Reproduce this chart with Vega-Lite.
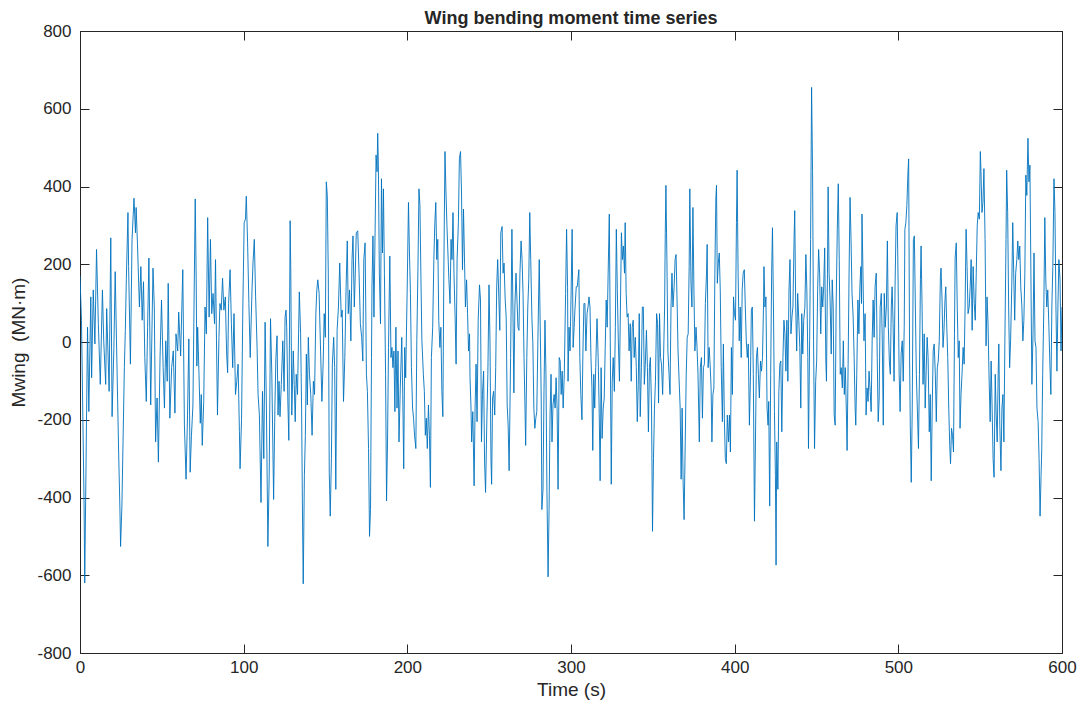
{
  "$schema": "https://vega.github.io/schema/vega-lite/v6.json",
  "autosize": "none",
  "width": 982,
  "height": 622,
  "padding": {"left": 80, "top": 31, "right": 29, "bottom": 55},
  "background": "white",
  "config": {
    "font": "Liberation Sans",
    "view": {"stroke": "#262626", "strokeWidth": 1},
    "axis": {"grid": false, "domainColor": "#262626", "tickColor": "#262626", "labelColor": "#262626", "titleColor": "#262626", "labelFontSize": 17, "titleFontSize": 19, "titleFontWeight": "normal", "tickSize": -9, "labelFont": "Liberation Sans", "titleFont": "Liberation Sans"}
  },
  "title": {"text": "Wing bending moment time series", "fontSize": 18, "fontWeight": "bold", "color": "#262626", "offset": -6, "font": "Liberation Sans"},
  "data": {"values": [
{"t":0,"v":170},{"t":0.9,"v":56},{"t":2.5,"v":-420},{"t":2.9,"v":-620},{"t":4.6,"v":38},{"t":5.4,"v":-179},{"t":6.6,"v":116},{"t":7.1,"v":-92},{"t":8.1,"v":134},{"t":9.1,"v":-5},{"t":10.1,"v":238},{"t":11.2,"v":47},{"t":12.4,"v":-109},{"t":13.7,"v":134},{"t":14.5,"v":3},{"t":15.7,"v":-109},{"t":16.3,"v":86},{"t":17.8,"v":-127},{"t":18.8,"v":268},{"t":19.6,"v":-192},{"t":20.7,"v":-14},{"t":21.5,"v":181},{"t":22.3,"v":3},{"t":23.6,"v":-283},{"t":24.4,"v":-431},{"t":24.8,"v":-526},{"t":25.6,"v":-422},{"t":27.1,"v":-66},{"t":27.7,"v":30},{"t":28.3,"v":160},{"t":29.3,"v":333},{"t":29.7,"v":194},{"t":30.8,"v":-57},{"t":31.8,"v":264},{"t":33.0,"v":370},{"t":33.9,"v":281},{"t":34.3,"v":346},{"t":35.1,"v":255},{"t":36.3,"v":90},{"t":37.2,"v":194},{"t":38.0,"v":56},{"t":38.8,"v":155},{"t":39.6,"v":-40},{"t":40.5,"v":-153},{"t":41.3,"v":38},{"t":42.1,"v":216},{"t":43.2,"v":-162},{"t":44.6,"v":190},{"t":45.4,"v":90},{"t":46.2,"v":-257},{"t":47.1,"v":-144},{"t":47.9,"v":-309},{"t":48.9,"v":-40},{"t":49.8,"v":108},{"t":50.8,"v":-66},{"t":51.6,"v":-170},{"t":52.4,"v":3},{"t":53.3,"v":-101},{"t":53.9,"v":151},{"t":54.9,"v":-196},{"t":56.0,"v":-66},{"t":57.0,"v":-23},{"t":58.0,"v":-183},
{"t":58.65,"v":21},{"t":59.7,"v":-23},{"t":60.3,"v":77},{"t":61.5,"v":-36},{"t":62.8,"v":186},{"t":63.8,"v":-214},{"t":64.8,"v":-353},{"t":65.7,"v":-188},{"t":66.5,"v":8},{"t":67.3,"v":-335},{"t":68.1,"v":-240},{"t":69.0,"v":-162},{"t":70.4,"v":368},{"t":71.0,"v":160},{"t":71.4,"v":-62},{"t":71.9,"v":38},{"t":72.7,"v":-83},{"t":73.5,"v":-209},{"t":74.1,"v":-135},{"t":74.7,"v":-266},{"t":75.6,"v":-153},{"t":76.4,"v":90},{"t":77.2,"v":21},{"t":78.0,"v":320},{"t":78.9,"v":64},{"t":79.7,"v":264},{"t":80.5,"v":73},{"t":81.3,"v":125},{"t":82.2,"v":47},{"t":82.8,"v":212},{"t":83.4,"v":3},{"t":84.0,"v":-188},{"t":84.9,"v":12},{"t":85.5,"v":99},{"t":86.3,"v":82},{"t":87.1,"v":164},{"t":87.9,"v":82},{"t":88.8,"v":116},{"t":89.6,"v":-31},{"t":90.2,"v":-79},{"t":90.8,"v":99},{"t":91.7,"v":186},{"t":92.5,"v":47},{"t":93.3,"v":-66},{"t":94.1,"v":73},{"t":95.0,"v":-135},{"t":95.8,"v":-101},{"t":96.6,"v":-57},{"t":97.4,"v":-231},{"t":97.8,"v":-326},{"t":98.7,"v":-200},{"t":99.5,"v":90},{"t":100.3,"v":307},{"t":101.1,"v":316},{"t":101.6,"v":375},{"t":102.4,"v":255},{"t":103.2,"v":99},{"t":104.0,"v":-40},{"t":105.1,"v":134},{"t":105.7,"v":203},{"t":106.5,"v":264},{"t":107.3,"v":116},{"t":108.2,"v":-14},{"t":108.8,"v":-135},{"t":109.6,"v":-188},{"t":110.6,"v":-413},{"t":111.5,"v":-127},{"t":112.3,"v":-300},{"t":113.1,"v":51},{"t":113.9,"v":-170},{"t":114.8,"v":-526},{"t":115.6,"v":-344},{"t":116.4,"v":60},{"t":117.2,"v":-83},{"t":118.3,"v":-405},
{"t":119.1,"v":-162},{"t":119.7,"v":-40},{"t":120.4,"v":16},{"t":121.0,"v":-188},{"t":121.6,"v":-101},{"t":122.2,"v":-192},{"t":123.0,"v":-109},{"t":123.9,"v":3},{"t":124.7,"v":-127},{"t":125.3,"v":64},{"t":125.9,"v":82},{"t":126.3,"v":38},{"t":127.0,"v":-153},{"t":127.6,"v":-253},{"t":128.4,"v":312},{"t":128.8,"v":177},{"t":129.4,"v":-188},{"t":130.3,"v":-23},{"t":130.9,"v":-109},{"t":131.5,"v":-205},{"t":132.1,"v":-83},{"t":132.9,"v":-135},{"t":134.0,"v":129},{"t":134.8,"v":21},{"t":135.4,"v":-170},{"t":136.0,"v":-474},{"t":136.4,"v":-622},{"t":137.1,"v":-344},{"t":137.7,"v":-240},{"t":138.3,"v":-31},{"t":138.9,"v":-162},{"t":139.5,"v":12},{"t":140.2,"v":-83},{"t":141.0,"v":-135},{"t":141.8,"v":-240},{"t":142.6,"v":-101},{"t":143.3,"v":-135},{"t":144.1,"v":73},{"t":144.7,"v":134},{"t":145.3,"v":160},{"t":146.1,"v":125},{"t":147.0,"v":-23},{"t":147.8,"v":-153},{"t":148.6,"v":-49},{"t":149.2,"v":73},{"t":149.9,"v":12},{"t":150.5,"v":412},{"t":151.1,"v":377},{"t":151.7,"v":177},{"t":152.3,"v":-335},{"t":152.9,"v":-448},{"t":153.6,"v":-300},{"t":154.2,"v":-57},{"t":155.0,"v":12},{"t":155.6,"v":-66},{"t":156.3,"v":-379},{"t":157.1,"v":30},{"t":157.9,"v":90},{"t":158.7,"v":203},{"t":159.6,"v":64},{"t":160.2,"v":82},{"t":161.0,"v":-153},{"t":161.8,"v":-40},{"t":162.6,"v":142},{"t":163.3,"v":260},{"t":163.9,"v":73},{"t":164.7,"v":134},{"t":165.5,"v":3},{"t":166.2,"v":212},{"t":166.8,"v":273},{"t":167.6,"v":90},{"t":168.2,"v":177},{"t":168.8,"v":281},{"t":169.7,"v":286},{"t":170.5,"v":177},{"t":171.3,"v":47},{"t":172.1,"v":12},{"t":172.8,"v":-49},{"t":173.4,"v":212},{"t":174.2,"v":255},{"t":175.0,"v":-83},{"t":175.6,"v":-127},{"t":176.3,"v":-274},{"t":176.9,"v":-500},{"t":177.5,"v":-431},{"t":178.1,"v":-40},
{"t":178.4,"v":142},{"t":179.0,"v":273},{"t":179.6,"v":64},{"t":180.3,"v":281},{"t":180.9,"v":481},{"t":181.5,"v":438},{"t":181.9,"v":537},{"t":182.3,"v":455},{"t":182.9,"v":177},{"t":183.6,"v":47},{"t":184.2,"v":420},{"t":184.8,"v":229},{"t":185.4,"v":394},{"t":186.0,"v":177},{"t":186.7,"v":-83},{"t":187.3,"v":-409},{"t":187.9,"v":-257},{"t":188.5,"v":-14},{"t":189.3,"v":221},{"t":190.0,"v":-40},{"t":190.6,"v":-14},{"t":191.2,"v":-66},{"t":191.8,"v":-23},{"t":192.4,"v":-179},{"t":193.0,"v":38},{"t":193.7,"v":-170},{"t":194.3,"v":-23},{"t":194.9,"v":-257},{"t":195.7,"v":-118},{"t":196.6,"v":12},{"t":197.2,"v":-135},{"t":197.8,"v":-326},{"t":198.4,"v":-14},{"t":199.0,"v":-92},{"t":199.9,"v":134},{"t":200.7,"v":359},{"t":201.3,"v":229},{"t":201.9,"v":125},{"t":202.5,"v":-66},{"t":203.2,"v":-170},{"t":203.8,"v":-196},{"t":204.4,"v":-240},{"t":205.2,"v":-274},{"t":205.8,"v":3},{"t":206.5,"v":194},{"t":207.1,"v":394},{"t":207.7,"v":351},{"t":208.3,"v":168},{"t":208.9,"v":3},{"t":209.8,"v":-83},{"t":210.4,"v":-127},{"t":211.0,"v":-240},{"t":211.6,"v":-196},{"t":212.2,"v":-274},{"t":212.9,"v":-162},{"t":213.5,"v":-240},{"t":214.1,"v":-374},{"t":214.7,"v":-40},{"t":215.5,"v":38},{"t":216.2,"v":212},{"t":216.8,"v":307},{"t":217.4,"v":359},{"t":218.0,"v":212},{"t":218.6,"v":264},{"t":219.2,"v":56},{"t":219.9,"v":-14},{"t":220.5,"v":38},{"t":221.1,"v":-127},{"t":221.7,"v":-192},{"t":222.3,"v":177},{"t":223.0,"v":490},{"t":223.6,"v":386},{"t":224.2,"v":299},{"t":224.8,"v":229},{"t":225.4,"v":160},{"t":226.1,"v":99},{"t":226.7,"v":264},{"t":227.3,"v":212},{"t":227.9,"v":333},{"t":228.5,"v":177},{"t":229.2,"v":64},{"t":229.8,"v":-57},{"t":230.4,"v":212},{"t":231.2,"v":307},{"t":231.8,"v":472},{"t":232.5,"v":490},{"t":233.1,"v":386},{"t":233.7,"v":186},{"t":234.3,"v":342},{"t":234.9,"v":221},{"t":235.5,"v":90},{"t":236.2,"v":160},{"t":236.8,"v":73},{"t":237.4,"v":-23},{"t":238.0,"v":21},
{"t":238.3,"v":-92},{"t":238.9,"v":-170},{"t":239.3,"v":-257},{"t":240.0,"v":-179},{"t":240.8,"v":-370},{"t":241.4,"v":-170},{"t":242.0,"v":-57},{"t":242.6,"v":-205},{"t":243.3,"v":56},{"t":244.1,"v":147},{"t":244.7,"v":108},{"t":245.3,"v":-257},{"t":245.9,"v":-135},{"t":246.6,"v":-75},{"t":247.2,"v":-309},{"t":247.8,"v":-387},{"t":248.6,"v":-196},{"t":249.2,"v":-83},{"t":249.9,"v":147},{"t":250.5,"v":3},{"t":251.1,"v":-300},{"t":251.5,"v":-366},{"t":252.1,"v":-144},{"t":252.7,"v":-127},{"t":253.4,"v":-188},{"t":254.0,"v":-66},{"t":254.6,"v":142},{"t":255.2,"v":212},{"t":256.5,"v":30},{"t":257.1,"v":281},{"t":257.9,"v":297},{"t":258.5,"v":177},{"t":259.1,"v":203},{"t":259.8,"v":108},{"t":260.4,"v":64},{"t":261.0,"v":-162},{"t":261.6,"v":-214},{"t":262.2,"v":-331},{"t":263.1,"v":-40},{"t":263.9,"v":290},{"t":264.5,"v":90},{"t":265.1,"v":-131},{"t":265.7,"v":90},{"t":266.4,"v":177},{"t":267.0,"v":108},{"t":267.6,"v":38},{"t":268.2,"v":30},{"t":268.8,"v":177},{"t":269.5,"v":260},{"t":270.1,"v":212},{"t":270.7,"v":125},{"t":271.3,"v":-40},{"t":271.9,"v":-170},{"t":272.3,"v":-266},{"t":273.0,"v":-40},{"t":273.6,"v":90},{"t":274.2,"v":160},{"t":274.8,"v":333},{"t":275.4,"v":212},{"t":276.1,"v":64},{"t":276.7,"v":-5},{"t":277.3,"v":-170},{"t":277.9,"v":-222},{"t":278.5,"v":-196},{"t":279.1,"v":-179},{"t":279.8,"v":12},{"t":280.6,"v":212},{"t":281.2,"v":38},{"t":281.8,"v":-144},{"t":282.2,"v":-431},{"t":282.9,"v":-379},{"t":283.5,"v":-127},{"t":284.1,"v":56},{"t":284.7,"v":-83},{"t":285.3,"v":-387},{"t":286.0,"v":-604},{"t":286.6,"v":-431},{"t":287.2,"v":-188},{"t":287.8,"v":-83},{"t":288.4,"v":-257},{"t":289.0,"v":-162},{"t":289.7,"v":-135},{"t":290.3,"v":-170},{"t":290.9,"v":-92},{"t":291.5,"v":-170},{"t":292.1,"v":-379},{"t":292.8,"v":-40},{"t":293.4,"v":-49},{"t":294.0,"v":-135},{"t":294.6,"v":-75},{"t":295.2,"v":-170},{"t":295.9,"v":-83},{"t":296.7,"v":125},{"t":297.3,"v":290},{"t":297.9,"v":142},
{"t":298.2,"v":-101},{"t":298.8,"v":38},{"t":299.4,"v":-23},{"t":300.1,"v":134},{"t":300.7,"v":290},{"t":301.3,"v":-14},{"t":301.9,"v":38},{"t":302.5,"v":90},{"t":303.2,"v":142},{"t":303.8,"v":142},{"t":304.4,"v":168},{"t":304.8,"v":186},{"t":305.4,"v":-40},{"t":306.0,"v":-135},{"t":306.7,"v":-200},{"t":307.3,"v":-23},{"t":307.9,"v":99},{"t":308.5,"v":99},{"t":309.1,"v":-23},{"t":309.8,"v":73},{"t":310.4,"v":90},{"t":311.0,"v":116},{"t":311.6,"v":90},{"t":312.2,"v":-40},{"t":312.8,"v":-118},{"t":313.3,"v":-279},{"t":313.9,"v":-83},{"t":314.5,"v":-170},{"t":315.1,"v":-66},{"t":315.9,"v":60},{"t":316.6,"v":-40},{"t":317.2,"v":-170},{"t":317.8,"v":-357},{"t":318.4,"v":-66},{"t":319.0,"v":-248},{"t":319.7,"v":-170},{"t":320.3,"v":-144},{"t":320.9,"v":-14},{"t":321.5,"v":108},{"t":322.1,"v":38},{"t":322.7,"v":177},{"t":323.4,"v":329},{"t":324.0,"v":3},{"t":324.6,"v":-366},{"t":325.2,"v":-101},{"t":325.8,"v":-40},{"t":326.5,"v":-127},{"t":327.1,"v":38},{"t":327.7,"v":290},{"t":328.3,"v":134},{"t":328.9,"v":3},{"t":329.6,"v":-101},{"t":330.2,"v":90},{"t":330.8,"v":281},{"t":331.4,"v":212},{"t":332.0,"v":247},{"t":332.7,"v":177},{"t":333.1,"v":307},{"t":333.7,"v":125},{"t":334.3,"v":64},{"t":334.9,"v":73},{"t":335.5,"v":-23},{"t":336.2,"v":47},{"t":336.8,"v":-101},{"t":337.4,"v":38},{"t":338.0,"v":56},{"t":338.6,"v":-40},{"t":339.3,"v":12},{"t":339.9,"v":-66},{"t":340.5,"v":-205},{"t":341.1,"v":-109},{"t":341.7,"v":73},{"t":342.3,"v":-192},{"t":343.0,"v":-66},{"t":343.6,"v":90},{"t":344.2,"v":90},{"t":344.8,"v":-109},{"t":345.4,"v":-57},{"t":346.1,"v":30},{"t":346.7,"v":-66},{"t":347.3,"v":-231},{"t":347.9,"v":-66},{"t":348.5,"v":-40},{"t":349.2,"v":-170},{"t":349.8,"v":-487},{"t":350.4,"v":-300},{"t":351.0,"v":-170},{"t":351.6,"v":-101},{"t":352.3,"v":73},{"t":352.9,"v":47},{"t":353.5,"v":-157},{"t":354.1,"v":73},{"t":354.7,"v":-40},{"t":355.3,"v":-57},{"t":356.0,"v":-135},{"t":356.6,"v":-31},{"t":357.2,"v":90},{"t":357.6,"v":281},{"t":358.0,"v":403},{"t":358.6,"v":212},
{"t":359.2,"v":-23},{"t":359.9,"v":-83},{"t":360.5,"v":-135},{"t":361.1,"v":90},{"t":361.7,"v":177},{"t":362.3,"v":90},{"t":363.0,"v":142},{"t":363.6,"v":212},{"t":364.2,"v":225},{"t":364.8,"v":108},{"t":365.4,"v":-23},{"t":366.0,"v":-92},{"t":366.7,"v":-170},{"t":367.3,"v":-353},{"t":367.9,"v":-170},{"t":368.5,"v":-361},{"t":369.1,"v":-457},{"t":369.8,"v":-257},{"t":370.4,"v":-83},{"t":371.0,"v":12},{"t":371.6,"v":21},{"t":372.2,"v":194},{"t":372.6,"v":394},{"t":373.3,"v":151},{"t":373.9,"v":90},{"t":374.5,"v":346},{"t":375.1,"v":134},{"t":375.7,"v":-23},{"t":376.4,"v":38},{"t":377.0,"v":-14},{"t":377.6,"v":-83},{"t":378.4,"v":-257},{"t":379.0,"v":-66},{"t":379.7,"v":-40},{"t":380.3,"v":-196},{"t":380.9,"v":-66},{"t":381.5,"v":-57},{"t":382.1,"v":99},{"t":382.8,"v":177},{"t":383.2,"v":251},{"t":383.8,"v":-66},{"t":384.4,"v":-14},{"t":385.0,"v":-57},{"t":385.6,"v":-118},{"t":386.1,"v":-257},{"t":386.7,"v":-135},{"t":387.3,"v":-118},{"t":387.9,"v":177},{"t":388.5,"v":368},{"t":388.9,"v":403},{"t":389.4,"v":151},{"t":390.0,"v":203},{"t":390.6,"v":229},{"t":391.2,"v":134},{"t":391.8,"v":-66},{"t":392.5,"v":-205},{"t":393.1,"v":-5},{"t":393.7,"v":-196},{"t":394.3,"v":-300},{"t":394.9,"v":-313},{"t":395.5,"v":-188},{"t":396.2,"v":-257},{"t":396.8,"v":-188},{"t":397.4,"v":-283},{"t":398.0,"v":-14},{"t":398.6,"v":-135},{"t":399.3,"v":116},{"t":399.9,"v":73},{"t":400.5,"v":56},{"t":401.1,"v":307},{"t":401.5,"v":442},{"t":402.1,"v":177},{"t":402.8,"v":3},{"t":403.4,"v":90},{"t":404.0,"v":-40},{"t":404.6,"v":134},{"t":405.2,"v":177},{"t":405.9,"v":186},{"t":406.5,"v":90},{"t":407.1,"v":3},{"t":407.7,"v":-40},{"t":408.3,"v":-5},{"t":409.0,"v":-214},{"t":409.6,"v":-101},{"t":410.2,"v":82},{"t":410.8,"v":90},{"t":411.4,"v":-83},{"t":412.1,"v":-461},{"t":412.7,"v":-257},{"t":413.3,"v":-40},{"t":413.9,"v":-14},{"t":414.5,"v":-83},{"t":415.1,"v":-144},{"t":415.8,"v":-49},{"t":416.4,"v":-75},{"t":417.0,"v":-40},{"t":417.6,"v":90},
{"t":417.9,"v":194},{"t":418.5,"v":90},{"t":419.1,"v":116},{"t":419.8,"v":-170},{"t":420.4,"v":-214},{"t":420.8,"v":-153},{"t":421.4,"v":-422},{"t":422.0,"v":-83},{"t":422.6,"v":177},{"t":423.1,"v":294},{"t":423.7,"v":90},{"t":424.3,"v":-179},{"t":424.9,"v":-344},{"t":425.3,"v":-574},{"t":425.7,"v":-257},{"t":426.4,"v":-379},{"t":427.0,"v":-127},{"t":427.6,"v":-57},{"t":428.2,"v":-49},{"t":428.8,"v":-231},{"t":429.5,"v":-40},{"t":430.1,"v":56},{"t":430.7,"v":21},{"t":431.3,"v":-75},{"t":431.9,"v":56},{"t":432.5,"v":-101},{"t":433.2,"v":134},{"t":433.8,"v":212},{"t":434.4,"v":21},{"t":435.0,"v":64},{"t":435.6,"v":90},{"t":436.3,"v":264},{"t":436.7,"v":338},{"t":437.3,"v":90},{"t":437.9,"v":-23},{"t":438.5,"v":125},{"t":439.2,"v":56},{"t":439.8,"v":-14},{"t":440.4,"v":-170},{"t":441.0,"v":73},{"t":441.6,"v":-31},{"t":442.2,"v":56},{"t":442.9,"v":90},{"t":443.5,"v":225},{"t":444.1,"v":134},{"t":444.7,"v":-40},{"t":445.1,"v":-274},{"t":445.8,"v":3},{"t":446.4,"v":264},{"t":447.0,"v":655},{"t":447.6,"v":438},{"t":448.2,"v":3},{"t":448.8,"v":-274},{"t":449.5,"v":-101},{"t":450.1,"v":-49},{"t":450.7,"v":134},{"t":451.3,"v":238},{"t":451.9,"v":177},{"t":452.6,"v":21},{"t":453.2,"v":142},{"t":453.8,"v":90},{"t":454.4,"v":142},{"t":455.0,"v":242},{"t":455.7,"v":-49},{"t":456.1,"v":-101},{"t":456.7,"v":177},{"t":457.1,"v":399},{"t":457.7,"v":177},{"t":458.3,"v":108},{"t":459.0,"v":-31},{"t":459.6,"v":160},{"t":460.2,"v":90},{"t":460.8,"v":-188},{"t":461.4,"v":-214},{"t":462.0,"v":90},{"t":462.7,"v":290},{"t":463.3,"v":407},{"t":463.9,"v":212},{"t":464.5,"v":-83},{"t":465.1,"v":-66},{"t":465.8,"v":-118},{"t":466.4,"v":3},{"t":467.0,"v":-135},{"t":467.6,"v":-66},{"t":468.2,"v":-170},{"t":468.7,"v":-279},{"t":469.3,"v":-66},{"t":469.9,"v":177},{"t":470.5,"v":372},{"t":471.1,"v":264},{"t":471.7,"v":125},{"t":472.4,"v":64},{"t":473.0,"v":-40},{"t":473.6,"v":-170},{"t":474.0,"v":-214},{"t":474.6,"v":-83},{"t":475.3,"v":108},{"t":475.9,"v":21},{"t":476.5,"v":142},{"t":477.1,"v":194},{"t":477.5,"v":99},
{"t":477.8,"v":329},{"t":478.4,"v":177},{"t":479.0,"v":3},{"t":479.7,"v":73},{"t":480.3,"v":-188},{"t":480.9,"v":-118},{"t":481.5,"v":-153},{"t":482.1,"v":-75},{"t":482.8,"v":-127},{"t":483.4,"v":-179},{"t":484.0,"v":3},{"t":484.6,"v":108},{"t":485.2,"v":12},{"t":485.8,"v":142},{"t":486.5,"v":177},{"t":487.1,"v":-40},{"t":487.7,"v":-205},{"t":488.3,"v":-144},{"t":488.9,"v":90},{"t":489.6,"v":125},{"t":490.2,"v":3},{"t":490.8,"v":-214},{"t":491.4,"v":125},{"t":492.0,"v":38},{"t":492.7,"v":90},{"t":493.3,"v":260},{"t":493.9,"v":38},{"t":494.5,"v":-49},{"t":495.1,"v":-83},{"t":495.7,"v":90},{"t":496.2,"v":142},{"t":496.8,"v":47},{"t":497.4,"v":-101},{"t":498.0,"v":142},{"t":498.6,"v":299},{"t":499.3,"v":333},{"t":499.9,"v":142},{"t":500.5,"v":-83},{"t":501.1,"v":-179},{"t":501.7,"v":-31},{"t":502.4,"v":3},{"t":503.0,"v":-101},{"t":503.6,"v":38},{"t":504.0,"v":290},{"t":504.6,"v":307},{"t":505.2,"v":351},{"t":505.9,"v":438},{"t":506.3,"v":471},{"t":506.9,"v":-49},{"t":507.3,"v":-214},{"t":507.9,"v":-361},{"t":508.5,"v":-170},{"t":509.2,"v":264},{"t":509.8,"v":273},{"t":510.4,"v":90},{"t":511.0,"v":-83},{"t":511.6,"v":-170},{"t":512.3,"v":-274},{"t":512.9,"v":-83},{"t":513.5,"v":160},{"t":513.9,"v":247},{"t":514.5,"v":90},{"t":515.1,"v":-109},{"t":515.8,"v":21},{"t":516.4,"v":-170},{"t":517.0,"v":-75},{"t":517.6,"v":12},{"t":518.2,"v":-40},{"t":518.9,"v":-231},{"t":519.5,"v":-135},{"t":520.1,"v":-357},{"t":520.7,"v":-170},{"t":521.3,"v":-23},{"t":521.9,"v":-5},{"t":522.6,"v":-83},{"t":523.2,"v":-205},{"t":523.8,"v":-66},{"t":524.4,"v":-49},{"t":525.0,"v":3},{"t":525.7,"v":168},{"t":526.1,"v":190},{"t":526.7,"v":108},{"t":527.3,"v":-14},{"t":527.9,"v":30},{"t":528.5,"v":108},{"t":529.0,"v":142},{"t":529.6,"v":38},{"t":530.2,"v":-40},{"t":530.8,"v":-170},{"t":531.4,"v":-266},{"t":531.9,"v":-313},{"t":532.5,"v":-222},{"t":533.1,"v":-240},{"t":533.7,"v":-283},{"t":534.3,"v":21},{"t":534.7,"v":216},{"t":535.4,"v":255},{"t":536.0,"v":90},{"t":536.6,"v":-40},{"t":537.2,"v":3},
{"t":537.7,"v":-222},{"t":538.3,"v":-135},{"t":538.9,"v":-83},{"t":539.6,"v":-14},{"t":540.2,"v":-57},{"t":540.8,"v":90},{"t":541.4,"v":290},{"t":542.0,"v":194},{"t":542.6,"v":73},{"t":543.3,"v":90},{"t":543.9,"v":142},{"t":544.5,"v":212},{"t":545.1,"v":30},{"t":545.7,"v":194},{"t":546.4,"v":99},{"t":547.0,"v":56},{"t":547.6,"v":177},{"t":548.2,"v":299},{"t":548.8,"v":333},{"t":549.5,"v":316},{"t":550.1,"v":490},{"t":550.5,"v":438},{"t":551.1,"v":333},{"t":551.7,"v":359},{"t":552.3,"v":446},{"t":553.0,"v":264},{"t":553.6,"v":-10},{"t":554.2,"v":116},{"t":554.8,"v":47},{"t":555.4,"v":-83},{"t":556.1,"v":-205},{"t":556.7,"v":-49},{"t":557.3,"v":-170},{"t":557.9,"v":-300},{"t":558.5,"v":-348},{"t":559.2,"v":-83},{"t":559.8,"v":-188},{"t":560.4,"v":-257},{"t":561.0,"v":-83},{"t":561.4,"v":-5},{"t":562.0,"v":-214},{"t":562.7,"v":-331},{"t":563.3,"v":-170},{"t":563.9,"v":-135},{"t":564.5,"v":-257},{"t":565.1,"v":3},{"t":565.8,"v":264},{"t":566.2,"v":442},{"t":566.8,"v":333},{"t":567.4,"v":90},{"t":568.0,"v":-66},{"t":568.6,"v":3},{"t":569.3,"v":142},{"t":569.9,"v":307},{"t":570.5,"v":177},{"t":571.1,"v":56},{"t":571.7,"v":177},{"t":572.4,"v":212},{"t":573.0,"v":260},{"t":573.6,"v":212},{"t":574.2,"v":247},{"t":574.8,"v":142},{"t":575.5,"v":90},{"t":576.1,"v":3},{"t":576.7,"v":56},{"t":577.3,"v":177},{"t":577.9,"v":429},{"t":578.5,"v":377},{"t":579.2,"v":524},{"t":579.8,"v":412},{"t":580.4,"v":455},{"t":581.0,"v":177},{"t":581.6,"v":-109},{"t":582.3,"v":21},{"t":582.9,"v":229},{"t":583.5,"v":3},{"t":584.1,"v":-14},{"t":584.7,"v":-170},{"t":585.4,"v":-205},{"t":586.0,"v":-300},{"t":586.6,"v":-448},{"t":587.2,"v":-344},{"t":587.6,"v":-283},{"t":588.2,"v":-83},{"t":588.9,"v":90},{"t":589.5,"v":320},{"t":590.1,"v":160},{"t":590.7,"v":90},{"t":591.3,"v":134},{"t":592.0,"v":38},{"t":592.6,"v":-57},{"t":593.2,"v":-135},{"t":593.8,"v":90},{"t":594.4,"v":194},{"t":595.1,"v":420},{"t":595.7,"v":333},{"t":596.3,"v":90},{"t":596.9,"v":-75},{"t":597.5,"v":90},{"t":598.1,"v":212},{"t":598.8,"v":160},{"t":599.4,"v":-23},{"t":600.0,"v":90}
  ]},
  "layer": [
    {
      "mark": {"type": "line", "color": "#0072BD", "strokeWidth": 0.9, "clip": true},
      "encoding": {
        "x": {"field": "t", "type": "quantitative", "scale": {"domain": [0, 600], "nice": false, "zero": false},
              "axis": {"title": "Time (s)", "values": [0, 100, 200, 300, 400, 500, 600], "labelPadding": 15, "titlePadding": 5, "labelFlush": false}},
        "y": {"field": "v", "type": "quantitative", "scale": {"domain": [-800, 800], "nice": false},
              "axis": {"title": "Mwing\u00a0\u00a0(MN·m)", "values": [-800, -600, -400, -200, 0, 200, 400, 600, 800], "labelExpr": "toString(datum.value)", "labelPadding": 18, "titlePadding": 8, "labelFlush": false}}
      }
    },
    {
      "mark": {"type": "line", "strokeOpacity": 0},
      "encoding": {
        "x": {"field": "t", "type": "quantitative", "axis": {"orient": "top", "labels": false, "title": null, "values": [0, 100, 200, 300, 400, 500, 600]}},
        "y": {"field": "v", "type": "quantitative", "axis": {"orient": "right", "labels": false, "title": null, "values": [-800, -600, -400, -200, 0, 200, 400, 600, 800]}}
      }
    }
  ],
  "resolve": {"axis": {"x": "independent", "y": "independent"}}
}
